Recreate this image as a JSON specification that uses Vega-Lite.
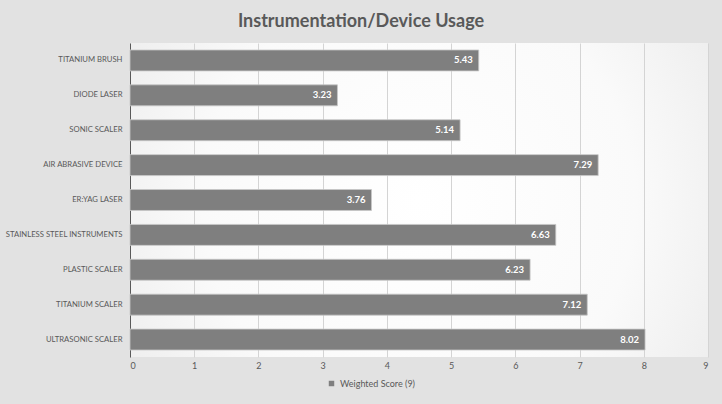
{
  "$schema": "https://vega.github.io/schema/vega-lite/v6.json",
  "autosize": "none",
  "width": 578,
  "height": 314,
  "padding": {"left": 130, "top": 43, "right": 14, "bottom": 47},
  "background": "#e2e2e2",
  "title": {
    "text": "Instrumentation/Device Usage",
    "anchor": "middle",
    "dx": -58,
    "offset": 12,
    "fontSize": 18,
    "font": "Lato",
    "fontWeight": "bold",
    "color": "#595959"
  },
  "data": {
    "values": [
      {"item": "TITANIUM BRUSH", "score": 5.43},
      {"item": "DIODE LASER", "score": 3.23},
      {"item": "SONIC SCALER", "score": 5.14},
      {"item": "AIR ABRASIVE DEVICE", "score": 7.29},
      {"item": "ER:YAG LASER", "score": 3.76},
      {"item": "STAINLESS STEEL INSTRUMENTS", "score": 6.63},
      {"item": "PLASTIC SCALER", "score": 6.23},
      {"item": "TITANIUM SCALER", "score": 7.12},
      {"item": "ULTRASONIC SCALER", "score": 8.02}
    ]
  },
  "encoding": {
    "y": {
      "field": "item",
      "type": "nominal",
      "sort": null,
      "scale": {"paddingInner": 0.4, "paddingOuter": 0.2},
      "axis": {
        "title": null,
        "ticks": false,
        "labelPadding": 8,
        "labelFont": "Lato",
        "labelFontSize": 7.7,
        "labelColor": "#595959",
        "domainColor": "#595959",
        "domainWidth": 1
      }
    },
    "x": {
      "field": "score",
      "type": "quantitative",
      "scale": {"domain": [0, 9], "nice": false},
      "axis": {
        "title": null,
        "values": [0, 1, 2, 3, 4, 5, 6, 7, 8, 9],
        "ticks": false,
        "domain": false,
        "labelPadding": 4,
        "labelFont": "Lato",
        "labelFontSize": 9,
        "labelColor": "#595959",
        "gridColor": "#d4d4d4",
        "gridWidth": 1
      }
    }
  },
  "layer": [
    {
      "mark": {"type": "bar", "stroke": "#c8c8c8", "strokeWidth": 0.8},
      "encoding": {
        "color": {
          "datum": "Weighted Score (9)",
          "type": "nominal",
          "scale": {"range": ["#7f7f7f"]},
          "legend": {
            "title": null,
            "orient": "none",
            "legendX": 197,
            "legendY": 336,
            "symbolType": "square",
            "symbolSize": 30,
            "symbolStrokeWidth": 0,
            "labelFont": "Lato",
            "labelFontSize": 9,
            "labelColor": "#595959"
          }
        }
      }
    },
    {
      "mark": {
        "type": "text",
        "align": "right",
        "dx": -6,
        "color": "white",
        "fontWeight": "bold",
        "fontSize": 9.5,
        "font": "Lato"
      },
      "encoding": {"text": {"field": "score", "type": "quantitative", "format": ".2f"}}
    }
  ],
  "config": {
    "view": {
      "stroke": null,
      "fill": {
        "gradient": "radial",
        "x1": 0.5, "y1": 0.5, "r1": 0,
        "x2": 0.5, "y2": 0.5, "r2": 0.75,
        "stops": [
          {"offset": 0, "color": "#ffffff"},
          {"offset": 0.5, "color": "#fafafa"},
          {"offset": 1, "color": "#e4e4e4"}
        ]
      }
    }
  }
}
